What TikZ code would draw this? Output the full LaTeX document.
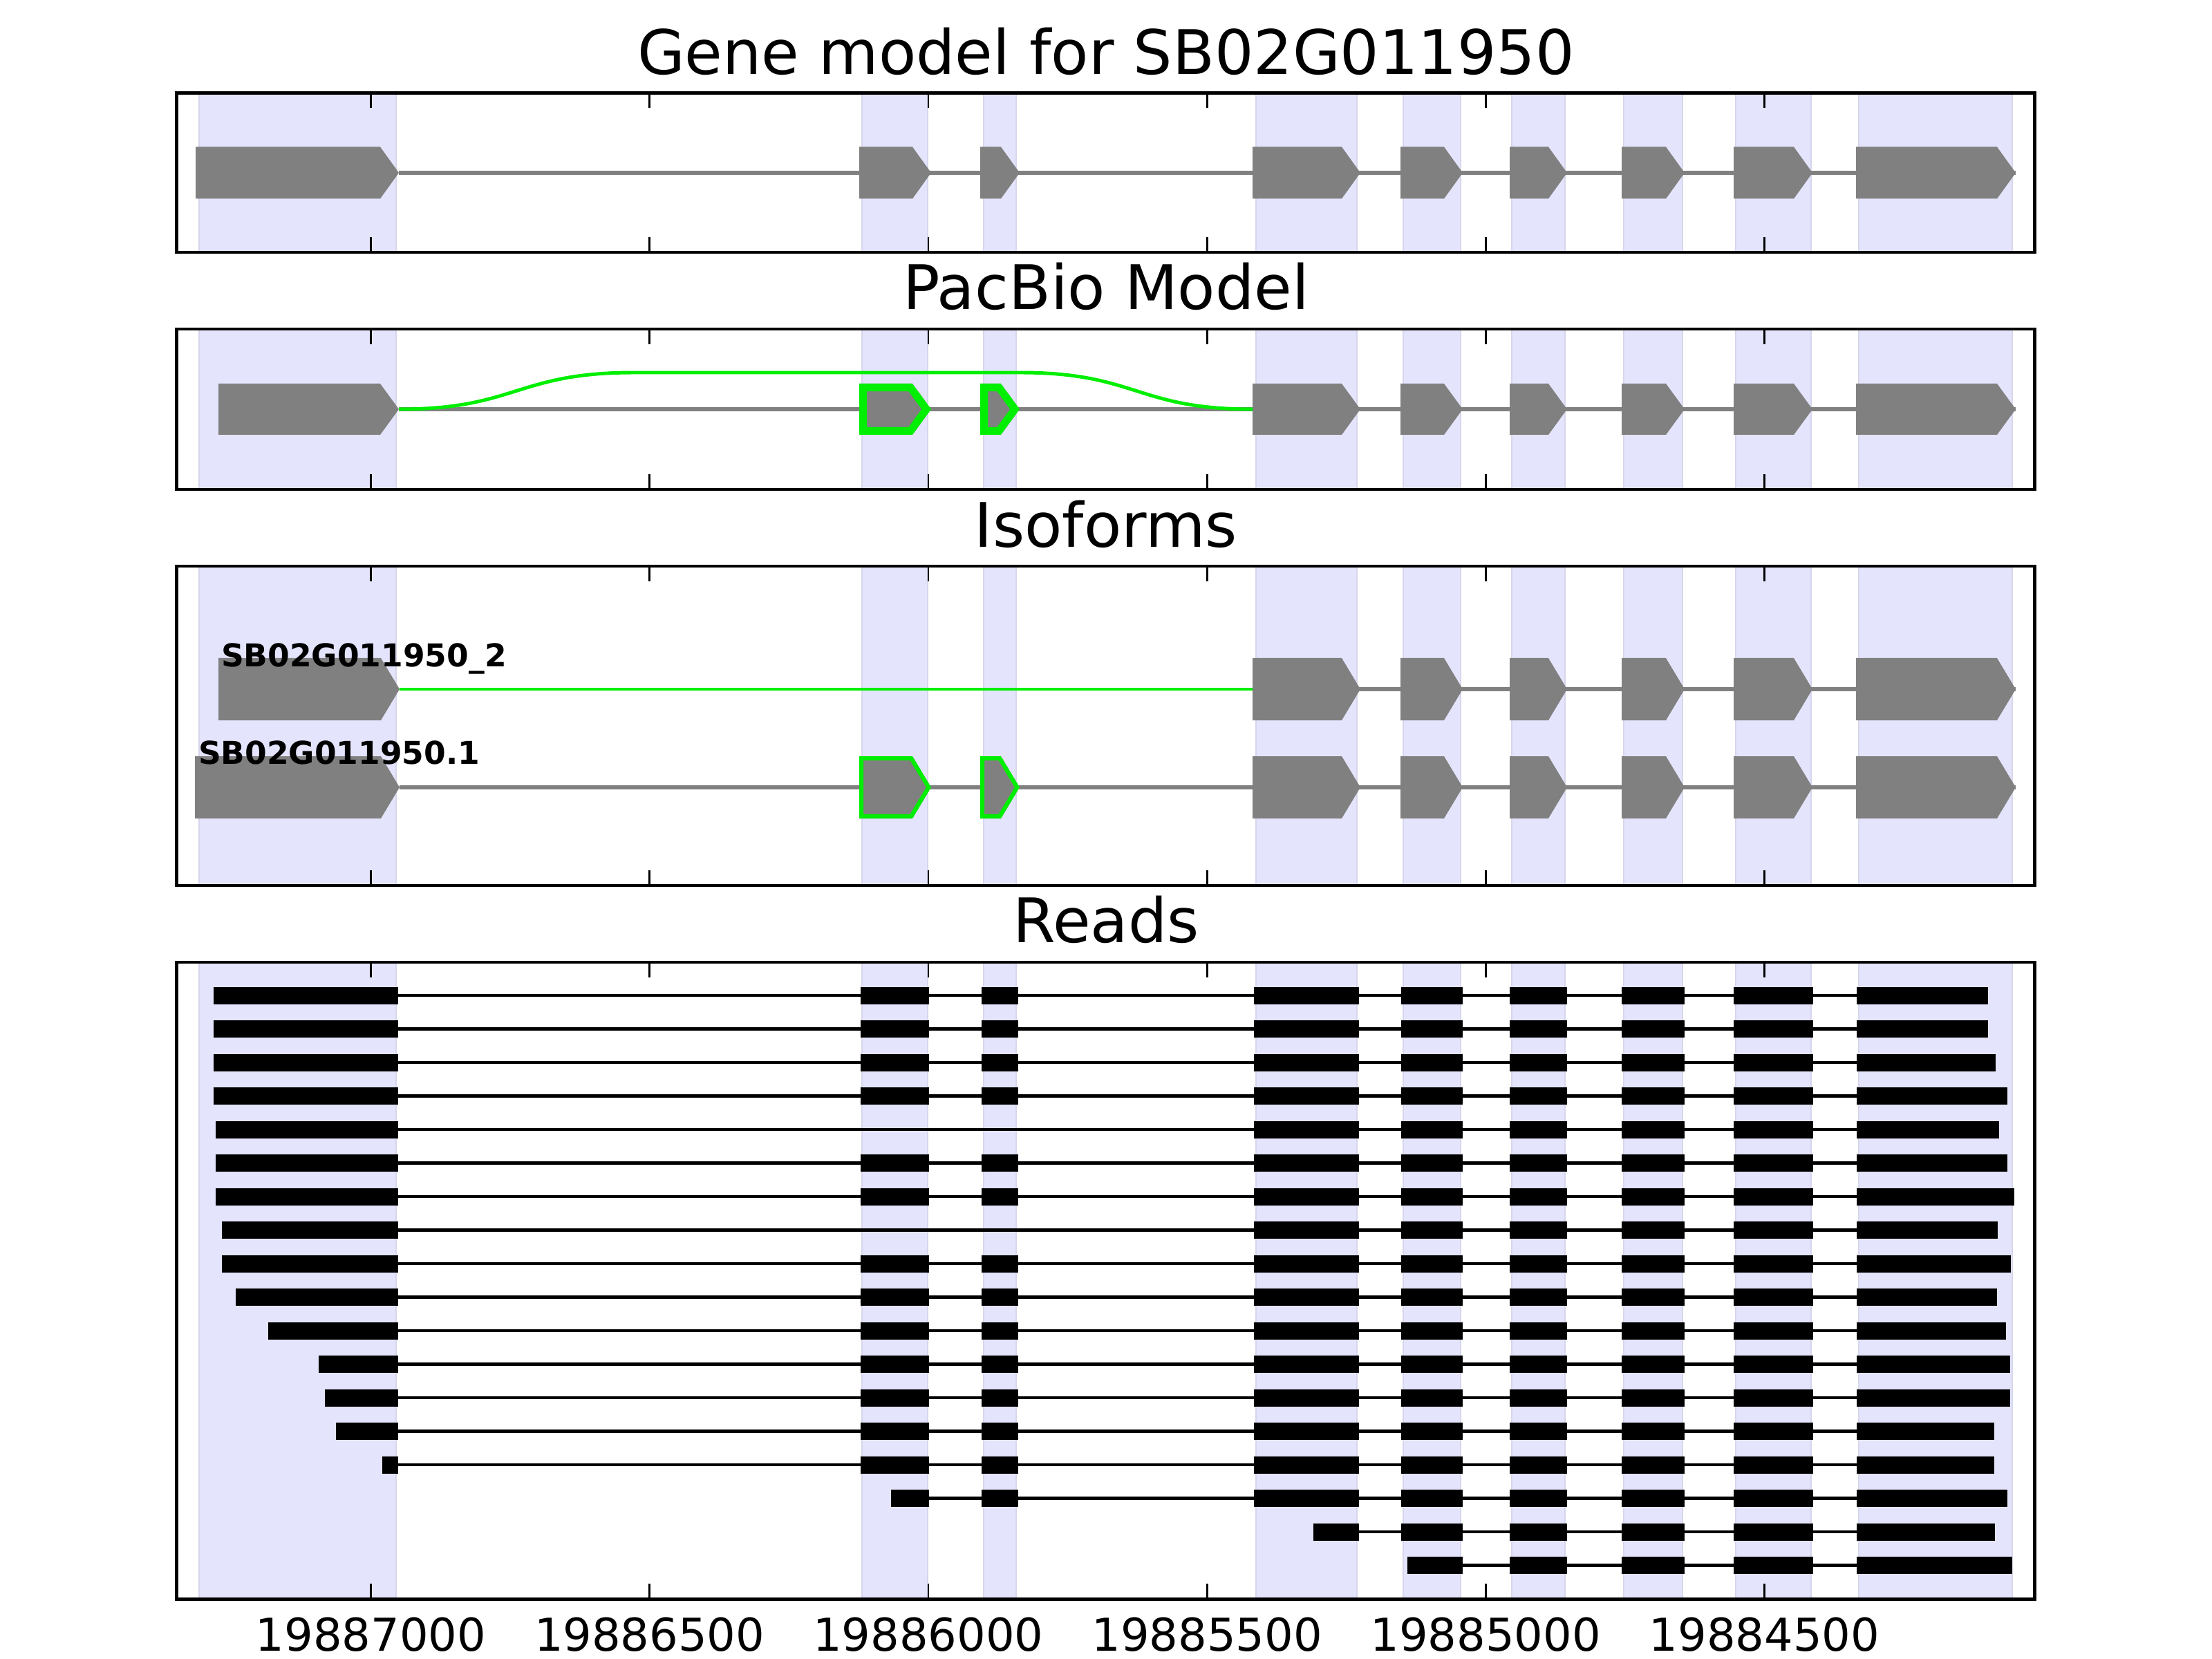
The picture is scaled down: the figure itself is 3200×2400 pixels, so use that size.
\documentclass[tikz,border=0pt]{standalone}
\usepackage{fontspec}
\setmainfont{DejaVu Sans}
\definecolor{shadefill}{RGB}{228,228,252}
\definecolor{shadeedge}{RGB}{214,214,236}
\definecolor{exgray}{RGB}{128,128,128}
\definecolor{limegreen}{RGB}{0,238,0}
\tikzset{
  panelbox/.style={draw=black, line width=0.9pt},
  tickmark/.style={draw=black, line width=0.5pt},
  intronline/.style={draw=exgray, line width=1.05pt},
  greenline/.style={draw=limegreen, line width=0.9pt},
  readline/.style={draw=black, line width=0.85pt},
  titletext/.style={anchor=base, inner sep=0pt, font=\fontsize{16bp}{18bp}\selectfont},
  ticktext/.style={anchor=base, inner sep=0pt, font=\fontsize{11.8bp}{14bp}\selectfont},
  isotext/.style={anchor=base west, inner sep=0pt, font=\bfseries\fontsize{8.2bp}{10bp}\selectfont}
}
\newcommand\exonshape[4]{%
  \fill[exgray] (#1,#3-#4) -- (#2-27,#3-#4) -- (#2,#3) -- (#2-27,#3+#4) -- (#1,#3+#4) -- cycle;}
\newcommand\greenexon[5]{%
  \begin{scope}
  \clip (#1,#3-#4) -- (#2-27,#3-#4) -- (#2,#3) -- (#2-27,#3+#4) -- (#1,#3+#4) -- cycle;
  \fill[exgray] (#1,#3-#4) -- (#2-27,#3-#4) -- (#2,#3) -- (#2-27,#3+#4) -- (#1,#3+#4) -- cycle;
  \draw[limegreen, line width=#5, line join=miter] (#1,#3-#4) -- (#2-27,#3-#4) -- (#2,#3) -- (#2-27,#3+#4) -- (#1,#3+#4) -- cycle;
  \end{scope}}
\newcommand\shadecols[2]{%
  \foreach \sa/\sb in {288/573,1247/1342,1423/1470,1817/1963,2030/2113,2187/2264,2349/2434,2511/2620,2689/2911}{%
    \fill[shadefill] (\sa,#1) rectangle (\sb,#2);
    \draw[shadeedge, line width=0.4pt] (\sa,#1) -- (\sa,#2) (\sb,#1) -- (\sb,#2);
  }}
\newcommand\panelticks[2]{%
  \foreach \tx in {536.5,939.7,1342.9,1746.1,2149.3,2552.5}{%
    \draw[tickmark] (\tx,#1) -- (\tx,#1+22) (\tx,#2) -- (\tx,#2-22);
  }}
\begin{document}
\begin{tikzpicture}[x=0.0025in, y=-0.0025in]
\useasboundingbox (0,0) rectangle (3200,2400);
\fill[white] (0,0) rectangle (3200,2400);

% ---------------- Panel 1: Gene model ----------------
\node[titletext] (title1) at (1600,107.7) {Gene model for SB02G011950};
\shadecols{134.5}{365}
\draw[intronline] (577,250) -- (2916,250);
\foreach \a/\b in {283/577,1243/1347,1418/1475,1812/1968,2026/2116,2184/2267,2346/2437,2508/2622,2685/2916}{%
  \exonshape{\a}{\b}{250}{37.5}}
\panelticks{134.5}{365}
\draw[panelbox] (255.5,134.5) rectangle (2943.5,365);

% ---------------- Panel 2: PacBio model ----------------
\node[titletext] (title2) at (1600,448) {PacBio Model};
\shadecols{476}{708}
\draw[intronline] (577,592) -- (2916,592);
\foreach \a/\b in {316/577,1812/1968,2026/2116,2184/2267,2346/2437,2508/2622,2685/2916}{%
  \exonshape{\a}{\b}{592}{37}}
\greenexon{1243}{1347}{592}{37}{4pt}
\greenexon{1418}{1475}{592}{37}{4pt}
\draw[greenline] (577,592) .. controls (747,592) and (747,539) .. (917,539)
  -- (1476,539) .. controls (1644,539) and (1644,592) .. (1812,592);
\panelticks{476}{708}
\draw[panelbox] (255.5,476) rectangle (2943.5,708);

% ---------------- Panel 3: Isoforms ----------------
\node[titletext] (title3) at (1600,791) {Isoforms};
\shadecols{819}{1281}
% isoform SB02G011950_2
\draw[intronline] (1812,997) -- (2916,997);
\draw[greenline] (578,997) -- (1812,997);
\foreach \a/\b in {316/578,1812/1968,2026/2116,2184/2267,2346/2437,2508/2622,2685/2916}{%
  \exonshape{\a}{\b}{997}{45}}
\node[isotext] (iso2) at (319,964) {SB02G011950\_2};
% isoform SB02G011950.1
\draw[intronline] (578,1139) -- (2916,1139);
\foreach \a/\b in {282/578,1812/1968,2026/2116,2184/2267,2346/2437,2508/2622,2685/2916}{%
  \exonshape{\a}{\b}{1139}{45}}
\greenexon{1243}{1347}{1139}{45}{2.2pt}
\greenexon{1418}{1475}{1139}{45}{2.2pt}
\node[isotext] (iso1) at (286,1105) {SB02G011950.1};
\panelticks{819}{1281}
\draw[panelbox] (255.5,819) rectangle (2943.5,1281);

% ---------------- Panel 4: Reads ----------------
\node[titletext] (title4) at (1600,1363) {Reads};
\shadecols{1392}{2313}
\foreach \r/\s/\e/\sk in {1/309/2876/0,2/309/2876/0,3/309/2887/0,4/309/2904/0,
    5/312/2892/1,6/312/2904/0,7/312/2914/0,8/321/2890/1,9/321/2909/0,
    10/341/2889/0,11/388/2902/0,12/461/2908/0,13/470/2908/0,14/486/2885/0,15/553/2885/0}{%
  \pgfmathsetmacro\yy{1440+(\r-1)*48.5}
  \draw[readline] (\s,\yy) -- (\e,\yy);
  \fill[black] (\s,\yy-12.5) rectangle (576,\yy+12.5);
  \ifnum\sk=0
    \fill[black] (1245,\yy-12.5) rectangle (1344,\yy+12.5);
    \fill[black] (1420,\yy-12.5) rectangle (1473,\yy+12.5);
  \fi
  \foreach \a/\b in {1814/1966,2027/2116,2184/2267,2346/2437,2508/2623}{%
    \fill[black] (\a,\yy-12.5) rectangle (\b,\yy+12.5);}
  \fill[black] (2686,\yy-12.5) rectangle (\e,\yy+12.5);
}
% read 16
\pgfmathsetmacro\yy{1440+15*48.5}
\draw[readline] (1289,\yy) -- (2904,\yy);
\foreach \a/\b in {1289/1344,1420/1473,1814/1966,2027/2116,2184/2267,2346/2437,2508/2623,2686/2904}{%
  \fill[black] (\a,\yy-12.5) rectangle (\b,\yy+12.5);}
% read 17
\pgfmathsetmacro\yy{1440+16*48.5}
\draw[readline] (1900,\yy) -- (2886,\yy);
\foreach \a/\b in {1900/1966,2027/2116,2184/2267,2346/2437,2508/2623,2686/2886}{%
  \fill[black] (\a,\yy-12.5) rectangle (\b,\yy+12.5);}
% read 18
\pgfmathsetmacro\yy{1440+17*48.5}
\draw[readline] (2036,\yy) -- (2911,\yy);
\foreach \a/\b in {2036/2116,2184/2267,2346/2437,2508/2623,2686/2911}{%
  \fill[black] (\a,\yy-12.5) rectangle (\b,\yy+12.5);}
\panelticks{1392}{2313}
\draw[panelbox] (255.5,1392) rectangle (2943.5,2313);

% tick labels
\node[ticktext] (tl1) at (536.5,2388) {19887000};
\node[ticktext] (tl2) at (939.7,2388) {19886500};
\node[ticktext] (tl3) at (1342.9,2388) {19886000};
\node[ticktext] (tl4) at (1746.1,2388) {19885500};
\node[ticktext] (tl5) at (2149.3,2388) {19885000};
\node[ticktext] (tl6) at (2552.5,2388) {19884500};
\end{tikzpicture}
\end{document}
